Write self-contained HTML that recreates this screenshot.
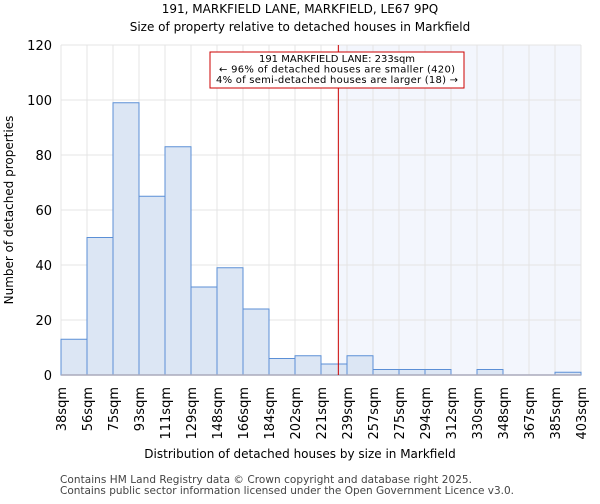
<!DOCTYPE html>
<html><head><meta charset="utf-8"><style>
body{margin:0;background:#fff;font-family:"DejaVu Sans","Liberation Sans",sans-serif;}
</style></head><body>
<svg width="600" height="500" xmlns="http://www.w3.org/2000/svg" font-family="DejaVu Sans, Liberation Sans, sans-serif">
<text x="300" y="13" text-anchor="middle" font-size="12">191, MARKFIELD LANE, MARKFIELD, LE67 9PQ</text>
<text x="300" y="31" text-anchor="middle" font-size="12">Size of property relative to detached houses in Markfield</text>
<g id="plot"></g>
<text x="300" y="458" text-anchor="middle" font-size="12">Distribution of detached houses by size in Markfield</text>
<text transform="translate(13,210) rotate(-90)" text-anchor="middle" font-size="12">Number of detached properties</text>
<text x="60" y="483" font-size="10.5" fill="#444" textLength="412">Contains HM Land Registry data © Crown copyright and database right 2025.</text>
<text x="60" y="494" font-size="10.5" fill="#444" textLength="454">Contains public sector information licensed under the Open Government Licence v3.0.</text>
</svg>
<script>
const binLabels=["38sqm","56sqm","75sqm","93sqm","111sqm","129sqm","148sqm","166sqm","184sqm","202sqm","221sqm","239sqm","257sqm","275sqm","294sqm","312sqm","330sqm","348sqm","367sqm","385sqm","403sqm"];
const counts=[13,50,99,65,83,32,39,24,6,7,4,7,2,2,2,0,2,0,0,1];
const yTicks=[0,20,40,60,80,100,120];
const propertySize=233;
const NS="http://www.w3.org/2000/svg";
const g=document.getElementById('plot');
const L=61,R=581,T=45,B=375,yMax=120;
const bw=(R-L)/counts.length;
const y=v=>B-(v/yMax)*(B-T);
const edgeVals=binLabels.map(s=>parseFloat(s));
function xv(v){for(let i=0;i<edgeVals.length-1;i++){if(v<=edgeVals[i+1])return L+bw*(i+(v-edgeVals[i])/(edgeVals[i+1]-edgeVals[i]));}return R;}
function el(t,a,p){const e=document.createElementNS(NS,t);for(const k in a)e.setAttribute(k,a[k]);(p||g).appendChild(e);return e;}
const px=xv(propertySize);
let sh=el('rect',{x:px,y:T,width:R-px,height:B-T,fill:'#f3f6fd'});


for(let i=0;i<=counts.length;i++){let l=el('line',{x1:L+bw*i,x2:L+bw*i,y1:T,y2:B,stroke:'#e4e4e4','stroke-width':1});

}
yTicks.forEach(t=>{let l=el('line',{x1:L,x2:R,y1:y(t),y2:y(t),stroke:'#e4e4e4','stroke-width':1});


let tx=el('text',{x:L-9,y:y(t)+5,'text-anchor':'end','font-size':13});tx.textContent=t;

});
counts.forEach((c,i)=>{if(c<=0)return;let r=el('rect',{x:L+bw*i,y:y(c),width:bw,height:B-y(c),fill:'#dce6f4',stroke:'#5b8fd6','stroke-width':1});

});
let ax=el('line',{x1:L,x2:R,y1:B,y2:B,stroke:'#aab','stroke-width':1.5});


binLabels.forEach((s,i)=>{let tx=el('text',{transform:`translate(${L+bw*i+5},${B+12}) rotate(-90)`,'text-anchor':'end','font-size':13});tx.textContent=s;

});
let ml=el('line',{x1:px,x2:px,y1:T,y2:B,stroke:'#cc0000','stroke-width':1});


let box=el('rect',{x:210,y:52,width:254,height:36,fill:'#fff',stroke:'#cc0000','stroke-width':1});


["191 MARKFIELD LANE: 233sqm","← 96% of detached houses are smaller (420)","4% of semi-detached houses are larger (18) →"].forEach((s,i)=>{let tx=el('text',{x:337,y:62+i*10.5,'text-anchor':'middle','font-size':10});tx.textContent=s;
if(i>0)tx.setAttribute('textLength',i==1?236:242);

});
</script>
</body></html>
